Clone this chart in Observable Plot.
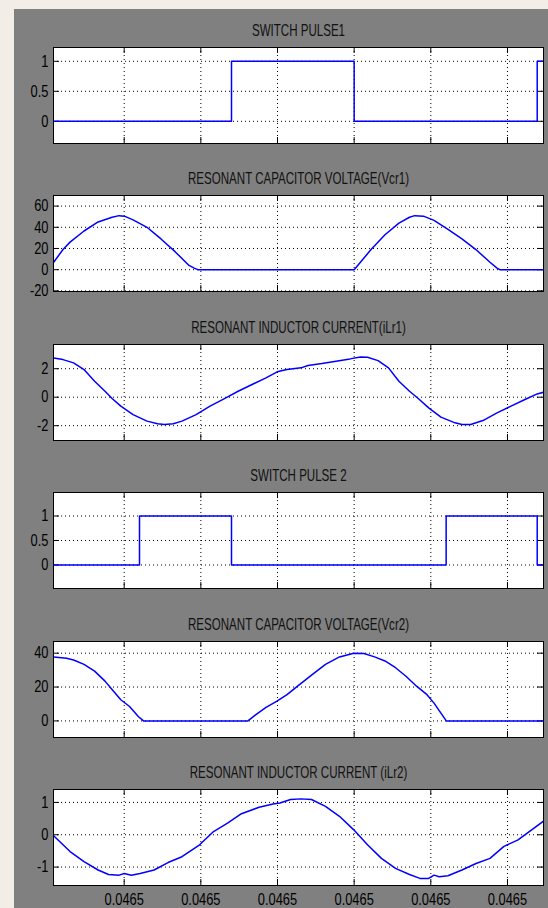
<!DOCTYPE html>
<html><head><meta charset="utf-8">
<script src="https://cdn.jsdelivr.net/npm/d3@7"></script>
<script src="https://cdn.jsdelivr.net/npm/@observablehq/plot@0.6"></script>
<style>
html,body{margin:0;padding:0;}
body{width:548px;height:908px;background:#f3ede7;position:relative;overflow:hidden;font-family:"Liberation Sans",Arial,sans-serif;}
#bg{position:absolute;left:14px;top:9px;width:534px;height:899px;background:#808080;}
</style></head><body><div id="bg"></div><div id="root"></div>
<script>
// Time axis in microseconds after t = 0.046465 s (all ticks display as 0.0465)
const xDomainUs = [0.39, 32.35];
const xTicksUs = [5, 10, 15, 20, 25, 30];
const xTickLabels = ["0.0465", "0.0465", "0.0465", "0.0465", "0.0465", "0.0465"];

const titles = [
  "SWITCH PULSE1",
  "RESONANT CAPACITOR VOLTAGE(Vcr1)",
  "RESONANT INDUCTOR CURRENT(iLr1)",
  "SWITCH PULSE 2",
  "RESONANT CAPACITOR VOLTAGE(Vcr2)",
  "RESONANT INDUCTOR CURRENT (iLr2)"
];

// Panel 1: switch pulse 1 (step)
const pulse1T = [0.39, 12.0, 20.0, 31.94, 32.35];
const pulse1V = [0, 1, 0, 1, 1];
const pulse1YDomain = [-0.37, 1.23];
const pulse1YTicks = [0, 0.5, 1];
const pulse1YLabels = ["0", "0.5", "1"];

// Panel 2: Vcr1
const vcr1T = [0.40, 1.01, 1.47, 2.38, 3.30, 4.21, 4.67, 5.01, 5.58, 6.49, 7.40, 8.32, 9.23, 9.57, 9.80,
  20.00, 20.41, 21.10, 22.01, 22.92, 23.61, 23.95, 24.52, 25.21, 26.12, 27.03, 27.94, 28.86, 29.32, 29.50, 32.35];
const vcr1V = [7, 19, 26, 36.5, 45, 49.5, 51, 50.5, 47, 40, 29, 17, 4, 1.5, 0,
  0, 7, 19, 33, 44, 49.5, 51, 50.5, 46.5, 38, 29, 19, 7, 1.5, 0, 0];
const vcr1YDomain = [-20.6, 70];
const vcr1YTicks = [-20, 0, 20, 40, 60];
const vcr1YLabels = ["-20", "0", "20", "40", "60"];

// Panel 3: iLr1
const ilr1T = [0.40, 1.01, 1.70, 2.38, 3.07, 3.75, 4.21, 4.78, 5.58, 6.49, 7.18, 7.63, 8.20, 8.77, 9.69, 10.60,
  11.51, 12.43, 13.34, 14.25, 14.98, 15.62, 16.53, 16.99, 17.90, 18.82, 19.73, 20.41, 20.87, 21.56, 22.24,
  22.92, 23.61, 24.18, 24.86, 25.66, 26.58, 27.03, 27.60, 28.40, 29.32, 30.23, 31.14, 31.94, 32.35];
const ilr1V = [2.76, 2.64, 2.41, 1.94, 1.12, 0.42, -0.09, -0.63, -1.22, -1.68, -1.87, -1.92, -1.87, -1.68, -1.22, -0.63,
  -0.12, 0.42, 0.89, 1.36, 1.78, 1.94, 2.06, 2.22, 2.36, 2.53, 2.69, 2.83, 2.81, 2.57, 2.06,
  1.12, 0.42, -0.09, -0.75, -1.40, -1.80, -1.92, -1.92, -1.64, -1.10, -0.63, -0.16, 0.23, 0.35];
const ilr1YDomain = [-3.04, 3.70];
const ilr1YTicks = [-2, 0, 2];
const ilr1YLabels = ["-2", "0", "2"];

// Panel 4: switch pulse 2 (step)
const pulse2T = [0.39, 6.0, 12.0, 26.0, 31.94, 32.35];
const pulse2V = [0, 1, 0, 1, 0, 0];
const pulse2YDomain = [-0.48, 1.48];
const pulse2YTicks = [0, 0.5, 1];
const pulse2YLabels = ["0", "0.5", "1"];

// Panel 5: Vcr2
const vcr2T = [0.40, 1.24, 1.70, 2.38, 3.07, 3.75, 4.21, 4.78, 5.35, 5.92, 6.26, 13.07, 13.57, 14.25, 14.94,
  15.62, 16.31, 17.22, 18.13, 19.04, 19.73, 19.96, 20.64, 21.33, 22.01, 22.70, 23.38, 24.07, 24.75, 25.21,
  25.66, 26.01, 32.35];
const vcr2V = [37.8, 37, 36, 33.4, 29.4, 23.5, 18.5, 12.5, 8.5, 2.6, 0, 0, 3.6, 8, 11.5,
  15.5, 20.5, 27, 33.4, 37.8, 39.4, 40, 39.8, 37.8, 35.4, 31.4, 26.4, 20.5, 15.5, 10.5,
  4.6, 0, 0];
const vcr2YDomain = [-9.8, 46.9];
const vcr2YTicks = [0, 20, 40];
const vcr2YLabels = ["0", "20", "40"];

// Panel 6: iLr2
const ilr2T = [0.40, 0.79, 1.47, 2.38, 3.30, 3.98, 4.67, 5.01, 5.46, 6.04, 6.95, 7.86, 8.77, 9.92, 10.83,
  11.74, 12.65, 13.80, 14.71, 15.16, 15.85, 16.53, 17.22, 18.13, 19.04, 19.96, 20.87, 21.78, 22.70, 23.61,
  24.29, 24.86, 25.21, 25.55, 26.12, 27.03, 27.95, 28.86, 29.77, 30.69, 31.60, 32.35];
const ilr2V = [-0.03, -0.21, -0.52, -0.83, -1.09, -1.23, -1.25, -1.20, -1.25, -1.20, -1.09, -0.86, -0.68, -0.31, 0.10,
  0.36, 0.65, 0.85, 0.95, 0.98, 1.09, 1.11, 1.09, 0.88, 0.57, 0.16, -0.31, -0.73, -1.04, -1.23,
  -1.35, -1.35, -1.25, -1.30, -1.27, -1.09, -0.89, -0.73, -0.36, -0.16, 0.16, 0.42];
const ilr2YDomain = [-1.57, 1.40];
const ilr2YTicks = [-1, 0, 1];
const ilr2YLabels = ["-1", "0", "1"];

const panels = [
  {t: pulse1T, v: pulse1V, yDomain: pulse1YDomain, yTicks: pulse1YTicks, yLabels: pulse1YLabels, step: true},
  {t: vcr1T, v: vcr1V, yDomain: vcr1YDomain, yTicks: vcr1YTicks, yLabels: vcr1YLabels},
  {t: ilr1T, v: ilr1V, yDomain: ilr1YDomain, yTicks: ilr1YTicks, yLabels: ilr1YLabels},
  {t: pulse2T, v: pulse2V, yDomain: pulse2YDomain, yTicks: pulse2YTicks, yLabels: pulse2YLabels, step: true},
  {t: vcr2T, v: vcr2V, yDomain: vcr2YDomain, yTicks: vcr2YTicks, yLabels: vcr2YLabels},
  {t: ilr2T, v: ilr2V, yDomain: ilr2YDomain, yTicks: ilr2YTicks, yLabels: ilr2YLabels}
];

const root = document.getElementById("root");
const W = 548, ML = 53, MR = 5, H = 96, MT = 36;
const innerW = W - ML - MR;
const TICK = 6;

panels.forEach((p, i) => {
  const last = i === panels.length - 1;
  const MB = last ? 22 : 14;
  const frameTop = 46.7 + i * 148.5;
  const rows = p.t.map((d, j) => ({t: d, v: p.v[j]}));
  const svg = Plot.plot({
    width: W, height: H + MT + MB,
    marginLeft: ML, marginRight: MR, marginTop: MT, marginBottom: MB,
    style: {background: "transparent", fontFamily: '"Liberation Sans", Arial, sans-serif', fontSize: "16.5px", color: "black", overflow: "visible"},
    x: {domain: xDomainUs, axis: null, label: null},
    y: {domain: p.yDomain, axis: null, label: null},
    marks: [
      Plot.frame({fill: "white", stroke: "none"}),
      Plot.gridX(xTicksUs, {stroke: "black", strokeOpacity: 1, strokeDasharray: "1,3"}),
      Plot.gridY(p.yTicks, {stroke: "black", strokeOpacity: 1, strokeDasharray: "1,3"}),
      Plot.tickX(xTicksUs, {x: d => d, insetBottom: H - TICK, stroke: "black"}),
      Plot.tickX(xTicksUs, {x: d => d, insetTop: H - TICK, stroke: "black"}),
      Plot.tickY(p.yTicks, {y: d => d, insetRight: innerW - TICK, stroke: "black"}),
      Plot.tickY(p.yTicks, {y: d => d, insetLeft: innerW - TICK, stroke: "black"}),
      Plot.axisY(p.yTicks, {label: null, tickSize: 0, tickPadding: 5, tickFormat: d => p.yLabels[p.yTicks.indexOf(d)], fontSize: 16.5}),
      last ? Plot.axisX(xTicksUs, {label: null, tickSize: 0, tickPadding: 8, tickFormat: d => xTickLabels[xTicksUs.indexOf(d)], fontSize: 16.5}) : null,
      Plot.line(rows, {x: "t", y: "v", stroke: "#0000ff", strokeWidth: 1.5, curve: p.step ? "step-after" : "linear", clip: true}),
      Plot.frame({stroke: "black", strokeWidth: 1}),
      Plot.text([titles[i]], {text: d => d, frameAnchor: "top", dy: -12, lineAnchor: "bottom", fontSize: 16.5, fill: "#111"})
    ]
  });
  svg.style.position = "absolute";
  svg.style.left = "0px";
  svg.style.top = (frameTop - MT) + "px";
  root.appendChild(svg);
  svg.querySelectorAll("text").forEach(tx => {
    const w = tx.getComputedTextLength();
    const g = tx.closest("g");
    const isTitle = g && g.getAttribute("aria-label") === "text";
    const r = isTitle ? 0.70 : 0.78;
    tx.setAttribute("textLength", (w * r).toFixed(2));
    tx.setAttribute("lengthAdjust", "spacingAndGlyphs");
  });
});
</script>
</body></html>
